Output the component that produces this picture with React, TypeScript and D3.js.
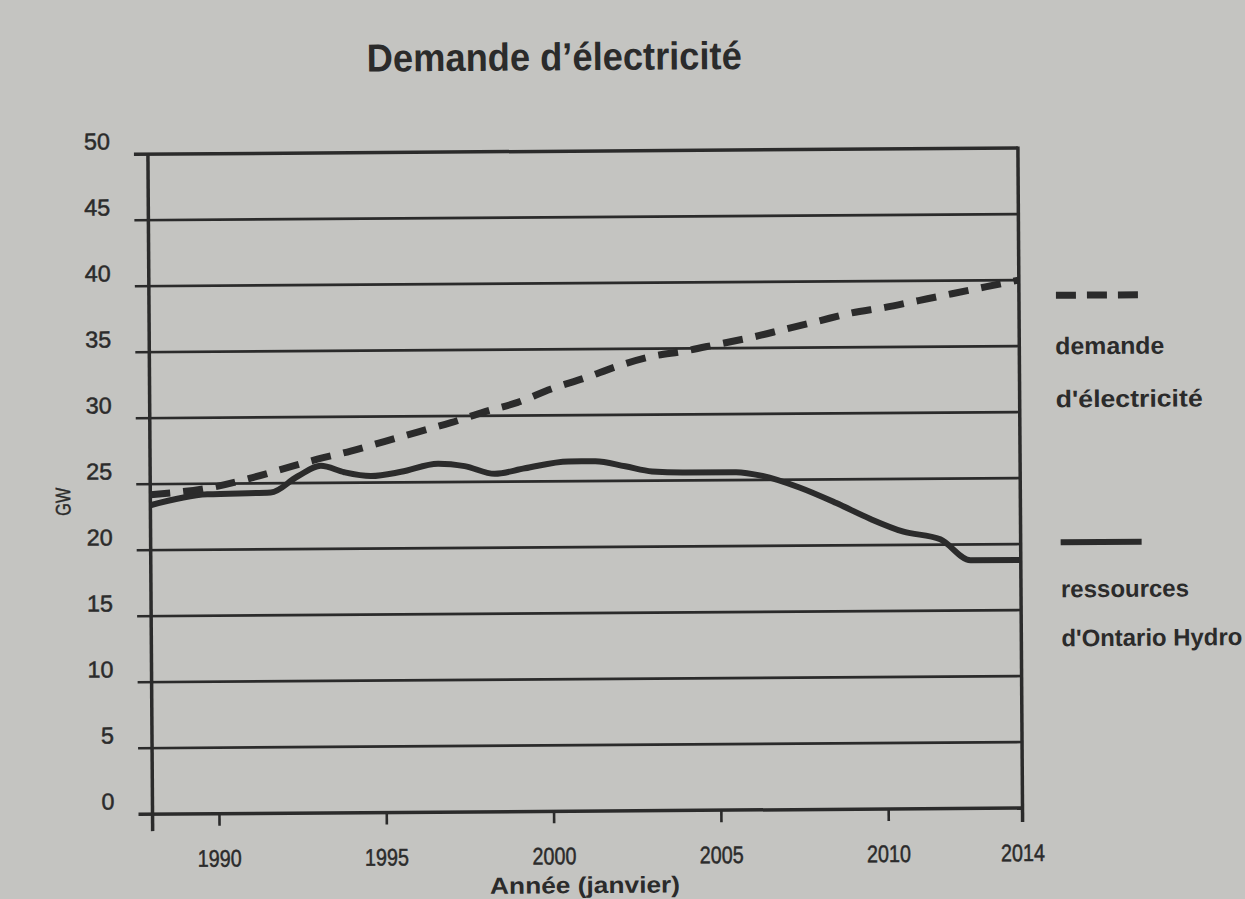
import React from "react";
import * as d3 from "d3";

const title = "Demande d\u2019électricité";
const yTicks = [0, 5, 10, 15, 20, 25, 30, 35, 40, 45, 50];
const xTicks = [1990, 1995, 2000, 2005, 2010, 2014];

const demandYears = [1988, 1990, 1991, 1992, 1993, 1994, 1995, 1996, 1997, 1998, 1999, 2000, 2001, 2002, 2003, 2004, 2005, 2006, 2007, 2008, 2009, 2010, 2011, 2012, 2013, 2014];
const demandValues = [24.2, 24.8, 25.4, 26.1, 26.8, 27.4, 28.1, 28.8, 29.5, 30.3, 31.0, 32.0, 32.8, 33.7, 34.4, 34.8, 35.3, 35.8, 36.4, 37.0, 37.6, 38.0, 38.5, 39.0, 39.5, 40.0];

const resYears = [1988, 1989.7, 1991.6, 1992.4, 1993.1, 1993.8, 1994.6, 1995.5, 1996.6, 1997.4, 1998.3, 1999.2, 2000.5, 2001.3, 2002.2, 2003, 2004, 2005.5, 2006.3, 2007.4, 2008.5, 2009.5, 2010.5, 2011.6, 2012.5, 2014];
const resValues = [23.4, 24.2, 24.3, 25.5, 26.3, 25.8, 25.5, 25.8, 26.4, 26.2, 25.6, 26.0, 26.5, 26.5, 26.1, 25.7, 25.6, 25.6, 25.3, 24.4, 23.2, 22.0, 21.0, 20.4, 18.8, 18.8];

const legendLabels = [["demande", "d'électricité"], ["ressources", "d'Ontario Hydro"]];
const xTitle = "Année (janvier)";
const yTitle = "GW";

const FONT = "'Liberation Sans', Arial, sans-serif";
const INK = "#2b2b2b";
const BG = "#c4c4c1";

type TProps = {
  x: number;
  y: number;
  w: number;
  size: number;
  bold?: boolean;
  anchor?: "start" | "middle" | "end";
  children: React.ReactNode;
  thick?: number;
  transform?: string;
};

function T({ x, y, w, size, bold, anchor = "start", children, thick = 0, transform }: TProps) {
  return (
    <text
      x={x}
      y={y}
      fontSize={size}
      fontWeight={bold ? "bold" : "normal"}
      textAnchor={anchor}
      fill={INK}
      stroke={thick ? INK : "none"}
      strokeWidth={thick}
      textLength={w}
      lengthAdjust="spacingAndGlyphs"
      transform={transform}
    >
      {children}
    </text>
  );
}

export default function App() {
  const x = d3.scaleLinear().domain([1988, 2014]).range([150, 1020]);
  const y = d3.scaleLinear().domain([0, 50]).range([811, 151]);

  const line = d3
    .line<[number, number]>()
    .x((d) => x(d[0]))
    .y((d) => y(d[1]))
    .curve(d3.curveMonotoneX);

  const demand = demandYears.map((yr, i) => [yr, demandValues[i]] as [number, number]);
  const res = resYears.map((yr, i) => [yr, resValues[i]] as [number, number]);

  const [x0, x1] = x.range();
  const yBottom = y(0);
  const yTop = y(50);

  return (
    <svg
      width={1245}
      height={899}
      style={{ position: "absolute", left: 0, top: 0, display: "block", background: BG }}
      fontFamily={FONT}
    >
      <rect x={0} y={0} width={1245} height={899} fill={BG} />
      <g transform="rotate(-0.4 600 450)">
        <T x={557} y={70} w={375} size={39} bold anchor="middle">
          {title}
        </T>

        {/* grid lines */}
        {yTicks.map((t) => (
          <line
            key={"g" + t}
            x1={x0 - 14}
            x2={x1}
            y1={y(t)}
            y2={y(t)}
            stroke={INK}
            strokeWidth={t === 0 || t === 50 ? 3.5 : 2.6}
          />
        ))}
        {yTicks.map((t) => (
          <T key={"yl" + t} x={112} y={y(t) - 5} w={t < 10 ? 13 : 26} size={23} anchor="end" thick={0.5}>
            {t}
          </T>
        ))}

        {/* axes */}
        <line x1={x0} x2={x0} y1={yTop} y2={yBottom + 17} stroke={INK} strokeWidth={3.5} />
        <line x1={x1} x2={x1} y1={yTop - 1.5} y2={yBottom + 14} stroke={INK} strokeWidth={3.5} />
        {xTicks.map((t) => (
          <g key={"x" + t}>
            <line x1={x(t)} x2={x(t)} y1={yBottom} y2={yBottom + 12} stroke={INK} strokeWidth={2.6} />
            <T x={x(t)} y={yBottom + 53} w={44} size={24} anchor="middle" thick={0.5}>
              {t}
            </T>
          </g>
        ))}

        <T x={0} y={0} w={28} size={21} anchor="middle" thick={0.4} transform="translate(70, 498) rotate(-90)">
          {yTitle}
        </T>
        <T x={582} y={893} w={190} size={23} bold anchor="middle">
          {xTitle}
        </T>

        {/* series */}
        <path d={line(res) || ""} fill="none" stroke={INK} strokeWidth={6} strokeLinejoin="round" />
        <path d={line(demand) || ""} fill="none" stroke={INK} strokeWidth={7} strokeDasharray="20 13" />

        {/* legend */}
        <line x1={1057} x2={1139} y1={298.5} y2={298.5} stroke={INK} strokeWidth={7} strokeDasharray="20 11" />
        <T x={1056} y={357.5} w={109} size={24} bold>
          {legendLabels[0][0]}
        </T>
        <T x={1056} y={410.5} w={147} size={24} bold>
          {legendLabels[0][1]}
        </T>
        <line x1={1060} x2={1141} y1={545.5} y2={545.5} stroke={INK} strokeWidth={6} />
        <T x={1060} y={600.5} w={128} size={24} bold>
          {legendLabels[1][0]}
        </T>
        <T x={1060} y={649.5} w={181} size={24} bold>
          {legendLabels[1][1]}
        </T>
      </g>
    </svg>
  );
}
